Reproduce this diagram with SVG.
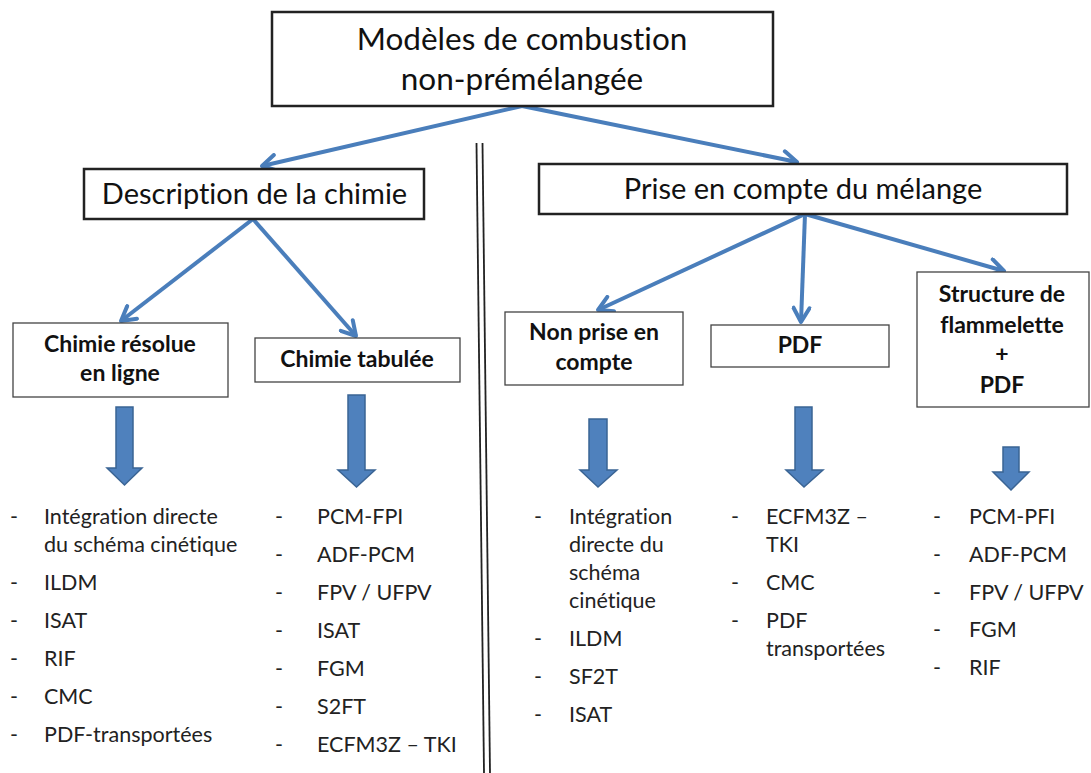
<svg xmlns="http://www.w3.org/2000/svg" width="1091" height="773" viewBox="0 0 1091 773">
<defs>
<style>
text{font-variant-ligatures:none}
.box{fill:#fff;stroke:#222;stroke-width:2.5}
.sbox{fill:#fff;stroke:#444;stroke-width:1.3}
.big{font-family:Lato,"Liberation Sans",sans-serif;font-size:29px;fill:#111;text-anchor:middle}
.top{font-size:31.5px}
.lab{font-family:Lato,"Liberation Sans",sans-serif;font-weight:bold;font-size:23px;fill:#111;text-anchor:middle}
.li{font-family:Lato,"Liberation Sans",sans-serif;font-size:21.5px;fill:#222}
.con{fill:none;stroke:#4A7EBB;stroke-width:4;marker-end:url(#ah)}
.blk{fill:#4F81BD;stroke:#3A6494;stroke-width:1.5}
.sep{stroke:#222;stroke-width:1.8}
</style>
<marker id="ah" markerUnits="userSpaceOnUse" viewBox="0 0 20 20" refX="17" refY="10" markerWidth="20" markerHeight="20" orient="auto">
<path d="M3,2 L17,10 L3,18" fill="none" stroke="#4A7EBB" stroke-width="4" stroke-linecap="round" stroke-linejoin="round"/>
</marker>
</defs>
<rect width="1091" height="773" fill="#fff"/>

<g id="separator">
<line class="sep" x1="476.5" y1="143" x2="484" y2="773"/>
<line class="sep" x1="482.5" y1="143" x2="490" y2="773"/>
</g>

<g id="connectors">
<line class="con" x1="522" y1="106" x2="262" y2="166"/>
<line class="con" x1="522" y1="106" x2="797" y2="162"/>
<line class="con" x1="253" y1="219" x2="121" y2="321"/>
<line class="con" x1="253" y1="219" x2="356" y2="336"/>
<line class="con" x1="805" y1="214" x2="598" y2="310"/>
<line class="con" x1="805" y1="214" x2="801" y2="322"/>
<line class="con" x1="805" y1="214" x2="1004" y2="271"/>
</g>

<g id="node-root">
<rect class="box" x="272" y="12" width="501" height="94"/>
<text class="big top" x="522" y="50">Modèles de combustion</text>
<text class="big top" x="522" y="90">non-prémélangée</text>
</g>

<g id="node-chimie">
<rect class="box" x="84" y="169" width="340" height="50" stroke-width="2"/>
<text class="big" x="254.5" y="204">Description de la chimie</text>
</g>

<g id="node-melange">
<rect class="box" x="539" y="164" width="528" height="50" stroke-width="2"/>
<text class="big" x="803" y="199">Prise en compte du mélange</text>
</g>

<g id="node-resolue">
<rect class="sbox" x="13" y="323" width="215" height="74"/>
<text class="lab" x="120" y="352">Chimie résolue</text>
<text class="lab" x="120" y="381">en ligne</text>
</g>

<g id="node-tabulee">
<rect class="sbox" x="255" y="338" width="205" height="44"/>
<text class="lab" x="357" y="367">Chimie tabulée</text>
</g>

<g id="node-nonprise">
<rect class="sbox" x="505" y="312" width="178" height="73"/>
<text class="lab" x="594" y="340">Non prise en</text>
<text class="lab" x="594" y="370">compte</text>
</g>

<g id="node-pdf">
<rect class="sbox" x="711" y="325" width="178" height="42"/>
<text class="lab" x="800" y="353">PDF</text>
</g>

<g id="node-structure">
<rect class="sbox" x="917" y="272" width="172" height="135"/>
<text class="lab" x="1002" y="302">Structure de</text>
<text class="lab" x="1002" y="333">flammelette</text>
<text class="lab" x="1002" y="362">+</text>
<text class="lab" x="1002" y="393">PDF</text>
</g>

<g id="block-arrows">
<path class="blk" d="M116,407 H133 V468 H142 L124.5,485 L107,468 H116 Z"/>
<path class="blk" d="M348,395 H365 V470 H375 L356.5,487 L338,470 H348 Z"/>
<path class="blk" d="M589,419 H607 V470 H617 L598,487 L580,470 H589 Z"/>
<path class="blk" d="M795,407 H812 V470 H823 L804,487 L786,470 H795 Z"/>
<path class="blk" d="M1003,447 H1019 V472 H1029 L1011,490 L993,472 H1003 Z"/>
</g>

<g id="list-resolue" class="li">
<text x="10" y="524">-</text><text x="44" y="524">Intégration directe</text>
<text x="44" y="552">du schéma cinétique</text>
<text x="10" y="590">-</text><text x="44" y="590">ILDM</text>
<text x="10" y="628">-</text><text x="44" y="628">ISAT</text>
<text x="10" y="666">-</text><text x="44" y="666">RIF</text>
<text x="10" y="704">-</text><text x="44" y="704">CMC</text>
<text x="10" y="742">-</text><text x="44" y="742">PDF-transportées</text>
</g>

<g id="list-tabulee" class="li">
<text x="275" y="524">-</text><text x="317" y="524">PCM-FPI</text>
<text x="275" y="562">-</text><text x="317" y="562">ADF-PCM</text>
<text x="275" y="600">-</text><text x="317" y="600">FPV / UFPV</text>
<text x="275" y="638">-</text><text x="317" y="638">ISAT</text>
<text x="275" y="676">-</text><text x="317" y="676">FGM</text>
<text x="275" y="714">-</text><text x="317" y="714">S2FT</text>
<text x="275" y="752">-</text><text x="317" y="752">ECFM3Z – TKI</text>
</g>

<g id="list-nonprise" class="li">
<text x="534" y="524">-</text><text x="569" y="524">Intégration</text>
<text x="569" y="552">directe du</text>
<text x="569" y="580">schéma</text>
<text x="569" y="608">cinétique</text>
<text x="534" y="646">-</text><text x="569" y="646">ILDM</text>
<text x="534" y="684">-</text><text x="569" y="684">SF2T</text>
<text x="534" y="722">-</text><text x="569" y="722">ISAT</text>
</g>

<g id="list-pdf" class="li">
<text x="731" y="524">-</text><text x="766" y="524">ECFM3Z –</text>
<text x="766" y="552">TKI</text>
<text x="731" y="590">-</text><text x="766" y="590">CMC</text>
<text x="731" y="628">-</text><text x="766" y="628">PDF</text>
<text x="766" y="656">transportées</text>
</g>

<g id="list-structure" class="li">
<text x="933" y="524">-</text><text x="969" y="524">PCM-PFI</text>
<text x="933" y="562">-</text><text x="969" y="562">ADF-PCM</text>
<text x="933" y="600">-</text><text x="969" y="600">FPV / UFPV</text>
<text x="933" y="637">-</text><text x="969" y="637">FGM</text>
<text x="933" y="675">-</text><text x="969" y="675">RIF</text>
</g>
</svg>
